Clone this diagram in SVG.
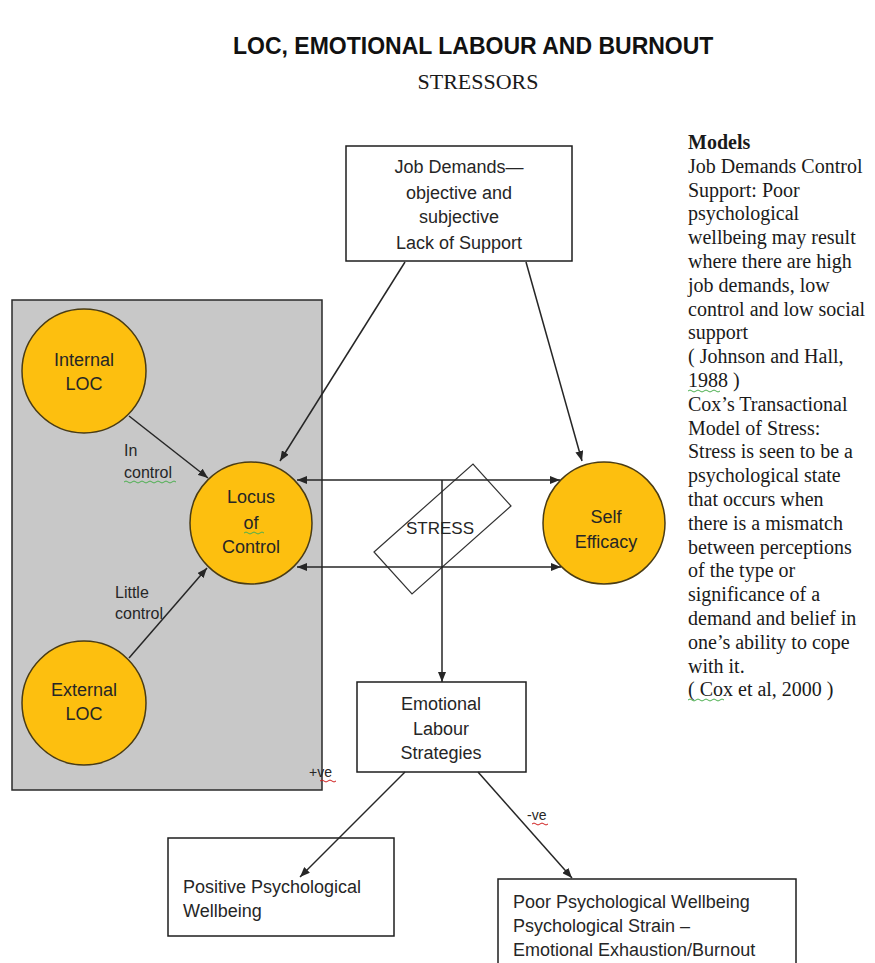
<svg xmlns="http://www.w3.org/2000/svg" width="875" height="963" viewBox="0 0 875 963">
<style>
  .sans { font-family: "Liberation Sans", Arial, sans-serif; fill: #262626; }
  .serif { font-family: "Liberation Serif", "Times New Roman", serif; fill: #1a1a1a; }
  .box { fill: #ffffff; stroke: #1e1e1e; stroke-width: 1.5; }
  .circ { fill: #fdbf0f; stroke: #4a3c14; stroke-width: 1.5; }
  .conn { stroke: #262626; stroke-width: 1.5; fill: none; }
  .wg { stroke: #4caf50; stroke-width: 1; fill: none; }
  .wr { stroke: #d02020; stroke-width: 1; fill: none; }
  .c { text-anchor: middle; }
  .f18 { font-size: 18px; }
  .f16 { font-size: 16px; }
  .f14 { font-size: 14px; }
</style>
<defs>
  <marker id="ah" markerUnits="userSpaceOnUse" markerWidth="10" markerHeight="8" refX="10" refY="4" orient="auto-start-reverse">
    <path d="M0,0 L10,4 L0,8 z" fill="#262626"/>
  </marker>
</defs>
<rect width="875" height="963" fill="#ffffff"/>

<g id="title">
  <text class="sans" x="233" y="54" style="font-size:23px;font-weight:bold;fill:#111">LOC, EMOTIONAL LABOUR AND BURNOUT</text>
  <text class="serif c" x="478" y="89" style="font-size:22px">STRESSORS</text>
</g>

<g id="loc-panel">
  <rect x="12" y="300" width="310" height="490" fill="#c8c8c8" stroke="#2a2a2a" stroke-width="1.5"/>
</g>

<g id="job-demands">
  <rect class="box" x="346" y="146" width="226" height="115"/>
  <text class="sans f18 c" x="459" y="173">Job Demands—</text>
  <text class="sans f18 c" x="459" y="199">objective and</text>
  <text class="sans f18 c" x="459" y="223">subjective</text>
  <text class="sans f18 c" x="459" y="249">Lack of Support</text>
</g>

<g id="internal-loc">
  <circle class="circ" cx="84" cy="371" r="62"/>
  <text class="sans f18 c" x="84" y="366">Internal</text>
  <text class="sans f18 c" x="84" y="390">LOC</text>
</g>

<g id="locus-of-control">
  <circle class="circ" cx="251" cy="523" r="61"/>
  <text class="sans f18 c" x="251" y="503">Locus</text>
  <text class="sans f18 c" x="251" y="529">of</text>
  <text class="sans f18 c" x="251" y="553">Control</text>
</g>

<g id="external-loc">
  <circle class="circ" cx="84" cy="703" r="62"/>
  <text class="sans f18 c" x="84" y="696">External</text>
  <text class="sans f18 c" x="84" y="720">LOC</text>
</g>

<g id="self-efficacy">
  <circle class="circ" cx="604" cy="523" r="61"/>
  <text class="sans f18 c" x="606" y="523">Self</text>
  <text class="sans f18 c" x="606" y="548">Efficacy</text>
</g>

<g id="stress">
  <polygon points="374,552 473,464 511,506 412,594" fill="none" stroke="#333" stroke-width="1.2"/>
  <text class="sans c" x="440" y="534" style="font-size:17px">STRESS</text>
</g>

<g id="emotional-labour">
  <rect class="box" x="357" y="682" width="169" height="90"/>
  <text class="sans f18 c" x="441" y="710">Emotional</text>
  <text class="sans f18 c" x="441" y="735">Labour</text>
  <text class="sans f18 c" x="441" y="759">Strategies</text>
</g>

<g id="positive-wellbeing">
  <rect class="box" x="168" y="838" width="226" height="98"/>
  <text class="sans f18" x="183" y="893">Positive Psychological</text>
  <text class="sans f18" x="183" y="917">Wellbeing</text>
</g>

<g id="poor-wellbeing">
  <rect class="box" x="498" y="879" width="298" height="100"/>
  <text class="sans f18" x="513" y="908">Poor Psychological Wellbeing</text>
  <text class="sans f18" x="513" y="932">Psychological Strain –</text>
  <text class="sans f18" x="513" y="956">Emotional Exhaustion/Burnout</text>
</g>

<g id="models">
  <text class="serif" x="688" y="149" style="font-size:20px;font-weight:bold">Models</text>
  <text class="serif" style="font-size:20px">
    <tspan x="688" y="172.8">Job Demands Control</tspan>
    <tspan x="688" y="196.6">Support: Poor</tspan>
    <tspan x="688" y="220.4">psychological</tspan>
    <tspan x="688" y="244.2">wellbeing may result</tspan>
    <tspan x="688" y="268">where there are high</tspan>
    <tspan x="688" y="291.8">job demands, low</tspan>
    <tspan x="688" y="315.6">control and low social</tspan>
    <tspan x="688" y="339.4">support</tspan>
    <tspan x="688" y="363.2">( Johnson and Hall,</tspan>
    <tspan x="688" y="387">1988 )</tspan>
    <tspan x="688" y="410.8">Cox’s Transactional</tspan>
    <tspan x="688" y="434.6">Model of Stress:</tspan>
    <tspan x="688" y="458.4">Stress is  seen to be a</tspan>
    <tspan x="688" y="482.2">psychological state</tspan>
    <tspan x="688" y="506">that occurs when</tspan>
    <tspan x="688" y="529.8">there is a mismatch</tspan>
    <tspan x="688" y="553.6">between perceptions</tspan>
    <tspan x="688" y="577.4">of the type or</tspan>
    <tspan x="688" y="601.2">significance of a</tspan>
    <tspan x="688" y="625">demand and belief in</tspan>
    <tspan x="688" y="648.8">one’s ability to cope</tspan>
    <tspan x="688" y="672.6">with it.</tspan>
    <tspan x="688" y="696.4">( Cox et al, 2000 )</tspan>
  </text>
</g>

<g id="connectors">
  <line class="conn" x1="405" y1="262" x2="280" y2="461" marker-end="url(#ah)"/>
  <line class="conn" x1="526" y1="262" x2="582" y2="461" marker-end="url(#ah)"/>
  <line class="conn" x1="129" y1="416" x2="208" y2="478" marker-end="url(#ah)"/>
  <line class="conn" x1="129" y1="658" x2="207" y2="568" marker-end="url(#ah)"/>
  <line class="conn" x1="297" y1="480" x2="560" y2="480" marker-start="url(#ah)" marker-end="url(#ah)"/>
  <line class="conn" x1="297" y1="567" x2="561" y2="567" marker-start="url(#ah)" marker-end="url(#ah)"/>
  <line class="conn" x1="442" y1="480" x2="442" y2="682" marker-end="url(#ah)"/>
  <line class="conn" x1="405" y1="772" x2="300" y2="877" marker-end="url(#ah)"/>
  <line class="conn" x1="478" y1="772" x2="572" y2="878" marker-end="url(#ah)"/>
</g>

<g id="connector-labels">
  <text class="sans f16" x="124" y="456">In</text>
  <text class="sans f16" x="124" y="478">control</text>
  <text class="sans f16" x="115" y="598">Little</text>
  <text class="sans f16" x="115" y="619">control</text>
  <text class="sans f14" x="309" y="777">+ve</text>
  <text class="sans f14" x="527" y="820">-ve</text>
</g>

<g id="spellcheck-marks">
  <path class="wg" d="M124,482 q2,-2 4,0 t4,0 t4,0 t4,0 t4,0 t4,0 t4,0 t4,0 t4,0 t4,0 t4,0 t4,0 t4,0"/>
  <path class="wg" d="M244,533 q2,-2 4,0 t4,0 t4,0 t4,0 t4,0"/>
  <path class="wr" d="M320,781 q2,-2 4,0 t4,0 t4,0 t4,0"/>
  <path class="wr" d="M532,824 q2,-2 4,0 t4,0 t4,0 t4,0"/>
  <path class="wg" d="M688,391 q2,-2 4,0 t4,0 t4,0 t4,0 t4,0 t4,0 t4,0 t4,0"/>
  <path class="wg" d="M688,700 q2,-2 4,0 t4,0 t4,0 t4,0 t4,0 t4,0 t4,0 t4,0 t4,0"/>
</g>
</svg>
